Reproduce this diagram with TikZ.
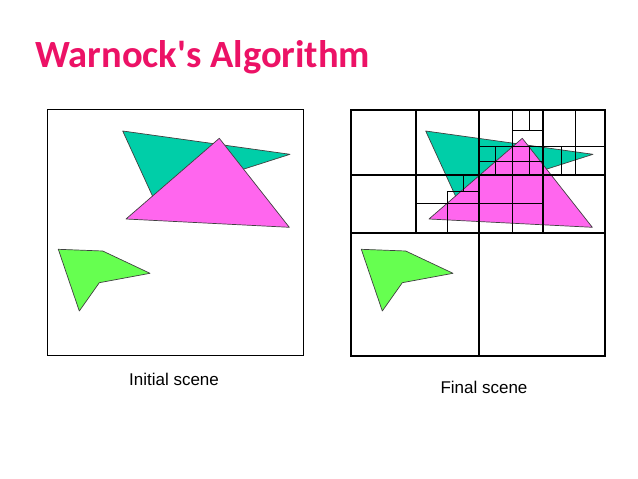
\documentclass[tikz,border=0pt]{standalone}
\usepackage{fontspec}
\setmainfont{Liberation Sans}
\newfontfamily\titlefont{Carlito}
\usepackage{tikz}
\definecolor{titlepink}{RGB}{236,18,102}
\definecolor{polyteal}{RGB}{0,206,168}
\definecolor{polypink}{RGB}{255,102,238}
\definecolor{polygreen}{RGB}{102,255,80}
\tikzset{
  poly/.style={line width=0.7pt,draw=black!75,line join=round},
  thickgrid/.style={line width=2pt},
  midgrid/.style={line width=1.3pt},
  thingrid/.style={line width=0.9pt},
}

\begin{document}
\begin{tikzpicture}[x=1pt,y=-1pt]
      \useasboundingbox (0,0) rectangle (638,479);
      \node[anchor=base west,text=titlepink,inner sep=0pt] (title) at (35,67)
        {\titlefont\bfseries\fontsize{38.5}{44}\selectfont Warnock's Algorithm};
      % the same three polygons in both scenes
      \foreach \dx in {0,303} {
        \begin{scope}[xshift=\dx pt]
          \draw[poly,fill=polyteal] (122.7,131) -- (290,154.3) -- (153.4,198) -- cycle;
          \draw[poly,fill=polypink] (219.3,138.3) -- (289.3,227.3) -- (126,219) -- cycle;
          \draw[poly,fill=polygreen] (58.3,249.3) -- (102.7,251) -- (150,273.3)
            -- (99.3,282.7) -- (79.3,311) -- cycle;
        \end{scope}
      }
      % initial scene
      \draw[line width=1pt] (47.3,109) rectangle (303.3,355.7);
      % final scene, subdivided
      \draw[thingrid] (415.7,203.3) -- (543.3,203.3);
      \draw[thingrid] (447.3,191.7) -- (447.3,233) (447.3,191.7) -- (479,191.7);
      \draw[thingrid] (463.3,175) -- (463.3,191.7);
      \draw[thingrid] (479,146.7) -- (605,146.7) (479,161.7) -- (543.3,161.7);
      \draw[thingrid] (495.7,146.7) -- (495.7,175) (529,146.7) -- (529,175);
      \draw[thingrid] (529,110) -- (529,130) (512.3,130) -- (543.3,130);
      \draw[thingrid] (561,146.7) -- (561,175);
      \draw[midgrid] (512.3,110) -- (512.3,233) (575.7,110) -- (575.7,175);
      \draw[thickgrid] (415.7,110) -- (415.7,233) (543.3,110) -- (543.3,233);
      \draw[thickgrid] (351,175) -- (605,175);
      \draw[thickgrid] (479,110) -- (479,355.7) (351,233) -- (605,233);
      \draw[thickgrid] (351,110) rectangle (605,355.7);
      \node[font=\fontsize{17}{20}\selectfont] (initcap) at (174,379) {Initial scene};
      \node[font=\fontsize{17}{20}\selectfont] (finalcap) at (484,387) {Final scene};
    \end{tikzpicture}
\end{document}
